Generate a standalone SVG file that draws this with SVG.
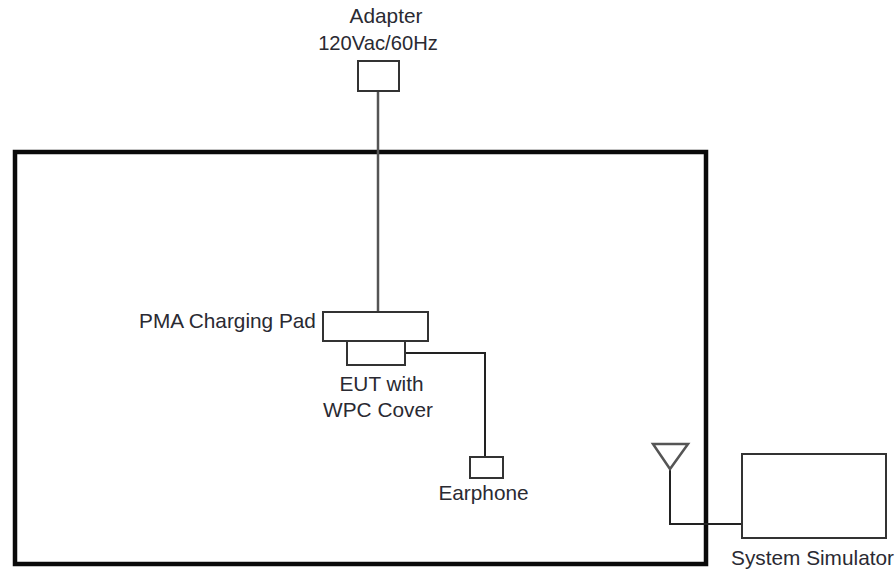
<svg xmlns="http://www.w3.org/2000/svg" width="896" height="572" viewBox="0 0 896 572">
<style>
text{font-family:"Liberation Sans",Arial,sans-serif;font-size:20.8px;fill:#2a2a32;text-anchor:middle}
.b{fill:#fff;stroke:#333;stroke-width:2}
.c{fill:none;stroke:#222;stroke-width:2}
.g{fill:none;stroke:#555;stroke-width:2.5}
</style>
<rect width="896" height="572" fill="#fff"/>
<g id="chamber"><rect x="15" y="152" width="691" height="412" fill="none" stroke="#0a0a0a" stroke-width="4.5"/></g>
<g id="connectors">
<path class="g" d="M378 91V312"/>
<path class="c" d="M405 353H485V457"/>
<path class="c" d="M670 469V524H742"/>
</g>
<g id="adapter"><rect class="b" x="358" y="61" width="41" height="30"/><text x="386" y="23">Adapter</text><text x="378" y="50" style="font-size:20.2px">120Vac/60Hz</text></g>
<g id="pad"><rect class="b" x="323" y="312" width="105" height="29"/><text x="227.5" y="328">PMA Charging Pad</text></g>
<g id="eut"><rect class="b" x="347" y="341" width="58" height="24"/><text x="381.5" y="391">EUT with</text><text x="378" y="417">WPC Cover</text></g>
<g id="earphone"><rect class="b" x="470" y="457" width="33" height="21"/><text x="483.5" y="500">Earphone</text></g>
<g id="antenna"><path class="g" d="M653 444H688L670 469Z"/></g>
<g id="simulator"><rect class="b" x="742" y="454" width="144" height="84"/><text x="812.5" y="565">System Simulator</text></g>
</svg>
